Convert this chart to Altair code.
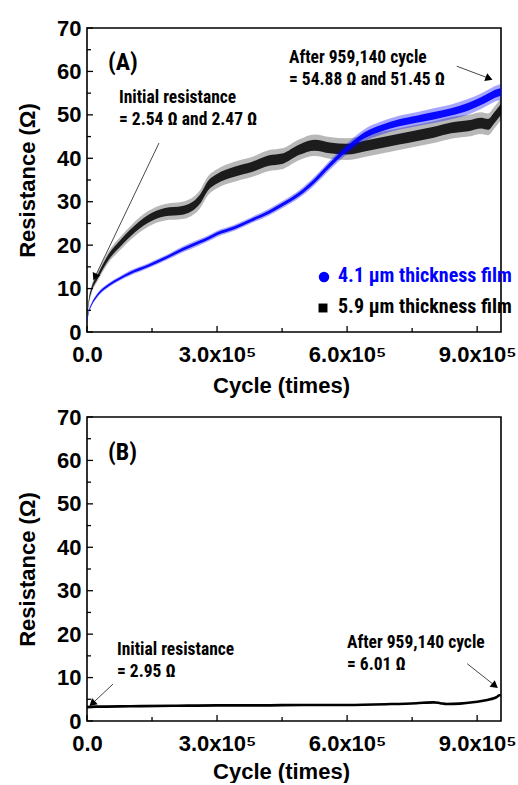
import math
import altair as alt
import pandas as pd

# ---------------- data ----------------
cycles = [0, 5000, 10000, 25000, 50000, 75000, 100000, 140000, 180000, 220000,
          260000, 280000, 300000, 340000, 380000, 420000, 450000, 490000, 525000,
          560000, 600000, 640000, 680000, 720000, 760000, 800000, 840000, 880000,
          910000, 925000, 940000, 955000]

blue_mid = [2.5, 5.0, 6.2, 8.6, 10.8, 12.3, 13.6, 15.2, 17.0, 19.0,
            20.7, 21.6, 22.6, 24.0, 25.8, 27.6, 29.3, 31.8, 34.8,
            38.4, 42.2, 45.3, 47.0, 48.2, 49.0, 49.8, 50.7, 51.9,
            53.2, 54.0, 54.8, 55.3]
blue_spread = [0.3, 0.4, 0.4, 0.5, 0.5, 0.5, 0.6, 0.6, 0.6, 0.7,
               0.7, 0.7, 0.7, 0.7, 0.7, 0.8, 0.8, 0.9, 1.0,
               1.1, 1.2, 1.4, 1.5, 1.6, 1.6, 1.7, 1.7, 1.8,
               1.8, 1.8, 1.8, 1.8]

black_mid = [3.5, 7.6, 9.6, 12.8, 17.3, 20.2, 22.8, 26.0, 27.6, 28.0,
             30.5, 33.8, 35.3, 36.9, 38.0, 39.5, 39.9, 42.0, 43.0,
             42.4, 42.1, 42.8, 43.6, 44.4, 45.2, 46.0, 47.0, 47.5,
             48.1, 47.8, 49.4, 51.3]
black_spread = [0.4, 0.8, 0.9, 1.0, 1.3, 1.5, 1.6, 1.8, 1.9, 2.0,
                2.1, 2.2, 2.2, 2.3, 2.3, 2.4, 2.4, 2.4, 2.5,
                2.5, 2.5, 2.5, 2.5, 2.5, 2.5, 2.5, 2.5, 2.5,
                2.5, 2.5, 2.5, 2.5]

b_cycles = [0, 20000, 100000, 200000, 300000, 400000, 500000, 600000, 700000,
            760000, 800000, 815000, 830000, 860000, 890000, 910000, 930000,
            945000, 950000, 955000]
b_res = [3.2, 3.3, 3.4, 3.5, 3.6, 3.6, 3.7, 3.7, 3.9,
         4.1, 4.3, 4.1, 3.9, 4.0, 4.3, 4.6, 5.0,
         5.5, 5.9, 6.0]

x_major = [0, 300000, 600000, 900000]
x_minor = [150000, 450000, 750000]
y_major = [0, 10, 20, 30, 40, 50, 60, 70]
y_minor = [5, 15, 25, 35, 45, 55, 65]

series_names = ["4.1 \u03bcm thickness film", "5.9 \u03bcm thickness film"]

# arrows: start (cycle, R) -> head (cycle, R)
arrows_a = [(166000, 43.5, 19500, 12.9), (853000, 61.2, 925000, 58.5)]
arrows_b = [(60000, 8.5, 14000, 4.2), (877000, 13.2, 939000, 8.3)]

# ---------------- styling / layout ----------------
W, H = 414, 304
XMAX, YMAX = 955000, 70
BOLD = "Liberation Sans"
NARROW = "Roboto Condensed, Liberation Sans Narrow, Liberation Sans"
BLUE = "#0000ff"

x_scale = alt.Scale(domain=[0, XMAX], nice=False, zero=False)
y_scale = alt.Scale(domain=[0, YMAX], nice=False)


def make_x_axis(title_y):
    return alt.Axis(
        values=x_major,
        labelExpr="datum.value == 0 ? '0.0' : format(datum.value / 100000, '.1f') + 'x10\u2075'",
        labelFont=BOLD, labelFontWeight="bold", labelFontSize=22, labelColor="black",
        labelPadding=12, labelOverlap=False, labelFlush=False,
        ticks=False, domain=False, grid=False,
        title="Cycle (times)", titleFont=BOLD, titleFontWeight="bold", titleFontSize=22,
        titleColor="black", titleX=194, titleY=title_y, titleBaseline="middle",
        titleAlign="center",
    )


y_axis = alt.Axis(
    values=y_major,
    labelFont=BOLD, labelFontWeight="bold", labelFontSize=22, labelColor="black",
    labelPadding=6, labelOverlap=False, labelFlush=False,
    ticks=False, domain=False, grid=False,
    title="Resistance (\u03a9)", titleFont=BOLD, titleFontWeight="bold", titleFontSize=22,
    titleColor="black", titleX=-60, titleY=H / 2, titleBaseline="middle", titleAlign="center",
    titleAngle=270,
)


def Y(field):
    return alt.Y(field, type="quantitative", scale=y_scale, axis=y_axis)


def tick_layers(X):
    layers = []
    for vals, ln in ((x_major, 6), (x_minor, 4)):
        d = pd.DataFrame({"v": vals})
        layers.append(alt.Chart(d).mark_rule(color="black", strokeWidth=1.3).encode(
            x=X("v"), y=alt.value(H), y2=alt.value(H - ln)))
    for vals, ln in ((y_major, 6), (y_minor, 4)):
        d = pd.DataFrame({"v": vals})
        layers.append(alt.Chart(d).mark_rule(color="black", strokeWidth=1.3).encode(
            y=Y("v"), x=alt.value(0), x2=alt.value(ln)))
    return layers


def text(label, px, py, size=17.5, color="black", font=NARROW, weight="bold"):
    return alt.Chart(alt.Data(values=[{}])).mark_text(
        text=label, font=font, fontSize=size, fontWeight=weight, color=color,
        align="left", baseline="middle").encode(x=alt.value(px), y=alt.value(py))


def arrow_layers(arrows, X):
    rows = []
    for x1, y1, x2, y2 in arrows:
        dx = (x2 - x1) * W / XMAX
        dy = -(y2 - y1) * H / YMAX
        ang = math.degrees(math.atan2(dx, -dy)) % 360
        rows.append({"x1": x1, "y1": y1, "x2": x2, "y2": y2, "ang": ang})
    d = pd.DataFrame(rows)
    line = alt.Chart(d).mark_rule(color="#333333", strokeWidth=0.9).encode(
        x=X("x1"), y=Y("y1"), x2="x2", y2="y2")
    heads = []
    for r in rows:
        heads.append(alt.Chart(pd.DataFrame([r])).mark_point(
            shape="triangle", filled=True, color="black", opacity=1, size=70,
            angle=r["ang"]).encode(x=X("x2"), y=Y("y2")))
    return [line] + heads


def band(mid, spread, color, frac, opacity, X):
    d = pd.DataFrame({"c": cycles,
                      "lo": [m - s * frac for m, s in zip(mid, spread)],
                      "hi": [m + s * frac for m, s in zip(mid, spread)]})
    return alt.Chart(d).mark_area(color=color, opacity=opacity, interpolate="monotone").encode(
        x=X("c"), y=Y("lo"), y2="hi")


# ---------------- panel A ----------------
xa_axis = make_x_axis(53)


def XA(field):
    return alt.X(field, type="quantitative", scale=x_scale, axis=xa_axis)


layers_a = [
    band(black_mid, black_spread, "black", 1.0, 0.28, XA),
    band(black_mid, black_spread, "black", 0.5, 0.85, XA),
    band(blue_mid, blue_spread, BLUE, 1.0, 0.35, XA),
    band(blue_mid, blue_spread, BLUE, 0.5, 0.95, XA),
] + tick_layers(XA) + arrow_layers(arrows_a, XA) + [
    text("(A)", 21, 35, size=24),
    text("Initial resistance", 32, 70),
    text("= 2.54 \u03a9 and 2.47 \u03a9", 32, 91.5),
    text("After 959,140  cycle", 202, 29.5),
    text("= 54.88 \u03a9 and 51.45 \u03a9", 202, 51.5),
    alt.Chart(alt.Data(values=[{}])).mark_point(shape="circle", filled=True, color=BLUE,
                                                 opacity=1, size=110).encode(
        x=alt.value(237), y=alt.value(249)),
    alt.Chart(alt.Data(values=[{}])).mark_point(shape="square", filled=True, color="black",
                                                 opacity=1, size=80).encode(
        x=alt.value(236), y=alt.value(280)),
    text(series_names[0], 251, 248, size=20, color=BLUE),
    text(series_names[1], 251, 279, size=20),
]
panel_a = alt.layer(*layers_a).properties(width=W, height=H)

# ---------------- panel B ----------------
xb_axis = make_x_axis(50)


def XB(field):
    return alt.X(field, type="quantitative", scale=x_scale, axis=xb_axis)


bdf = pd.DataFrame({"c": b_cycles, "r": b_res})
layers_b = [
    alt.Chart(bdf).mark_line(color="black", strokeWidth=2.6, interpolate="monotone").encode(
        x=XB("c"), y=Y("r")),
] + tick_layers(XB) + arrow_layers(arrows_b, XB) + [
    text("(B)", 21, 36, size=24),
    text("Initial resistance", 30, 233),
    text("= 2.95 \u03a9", 30, 255),
    text("After 959,140  cycle", 260, 226),
    text("= 6.01 \u03a9", 260, 248),
]
panel_b = alt.layer(*layers_b).properties(width=W, height=H)

chart = alt.vconcat(panel_a, panel_b, spacing=8).properties(
    padding={"left": 15, "top": 16, "right": 0, "bottom": 0},
    background="white",
).configure_view(stroke="black", strokeWidth=1.6)

chart.save("out.html", embed_options={"renderer": "svg", "actions": False})
